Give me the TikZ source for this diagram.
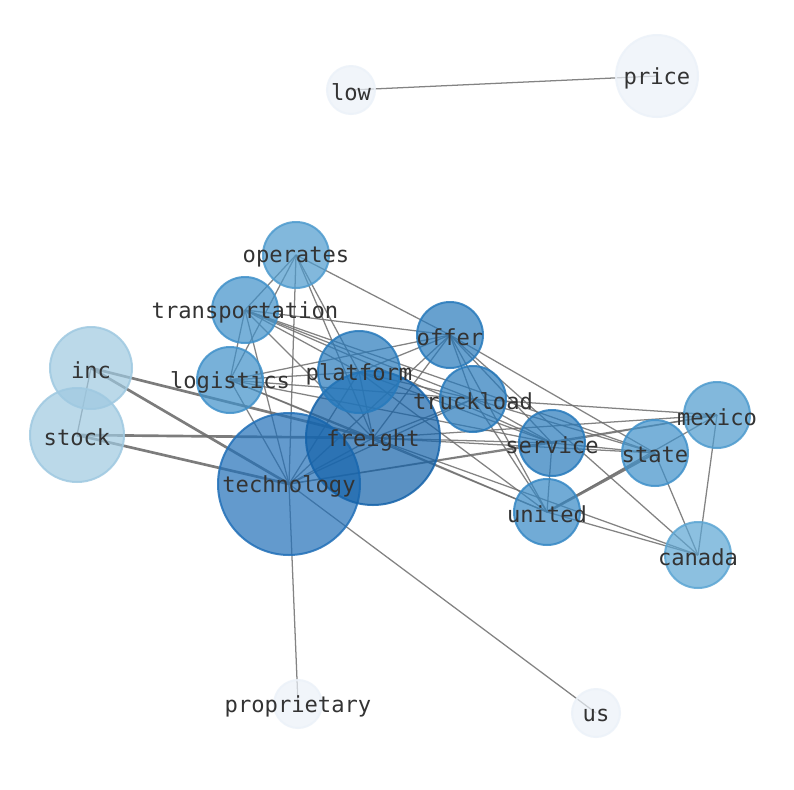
\documentclass[tikz,border=0pt]{standalone}
\usepackage{fontspec}
\setmainfont{DejaVu Sans Mono}
\definecolor{cLow}{RGB}{236,242,249}
\definecolor{cInc}{RGB}{159,201,225}
\definecolor{cCan}{RGB}{92,166,212}
\definecolor{cOpe}{RGB}{78,155,206}
\definecolor{cTra}{RGB}{64,145,202}
\definecolor{cUni}{RGB}{54,136,197}
\definecolor{cOff}{RGB}{39,122,188}
\definecolor{cTec}{RGB}{34,112,184}
\definecolor{cFre}{RGB}{21,99,170}
\definecolor{cEdge}{RGB}{110,110,110}
\definecolor{cTxt}{RGB}{51,51,51}
\tikzset{
  circ/.style 2 args={circle, inner sep=0pt, minimum size={(#1-1)*1.5pt}, fill=#2, draw=#2, fill opacity=0.7, draw opacity=0.85, line width=1.5pt},
  lbl/.style={text=cTxt, inner sep=0pt, font=\fontsize{16.6}{20}\selectfont, yshift=-1.5pt},
  edge/.style={draw=cEdge, draw opacity=0.85, line width=0.95pt},
  thickedge/.style={draw=cEdge, draw opacity=0.9, line width=2pt}
}
\begin{document}
\begin{tikzpicture}[x=0.75pt, y=-0.75pt]
\fill[white] (0,0) rectangle (794,790);
\useasboundingbox (0,0) rectangle (794,790);
% positions
\coordinate (low) at (351,90);
\coordinate (price) at (657,76);
\coordinate (operates) at (296,255);
\coordinate (transportation) at (245,310);
\coordinate (offer) at (450,335);
\coordinate (platform) at (359,372);
\coordinate (inc) at (91,368);
\coordinate (logistics) at (230,380);
\coordinate (truckload) at (473,399);
\coordinate (freight) at (373,438);
\coordinate (stock) at (77,435);
\coordinate (mexico) at (717,415);
\coordinate (service) at (552,443);
\coordinate (state) at (655,453);
\coordinate (technology) at (289,484);
\coordinate (united) at (547,512);
\coordinate (canada) at (698,555);
\coordinate (proprietary) at (298,704);
\coordinate (us) at (596,713);
% edges
\foreach \a/\b in {low/price, technology/proprietary, technology/us, inc/stock,
  operates/transportation, operates/logistics, operates/technology, operates/platform, operates/freight, operates/offer,
  transportation/logistics, transportation/technology, transportation/offer, transportation/platform, transportation/freight,
  transportation/truckload, transportation/service, transportation/state,
  logistics/technology, logistics/offer, logistics/platform, logistics/freight, logistics/truckload, logistics/service, logistics/united,
  offer/platform, offer/freight, offer/technology, offer/truckload, offer/service, offer/united, offer/state, offer/canada,
  platform/freight, platform/technology, platform/truckload, platform/service, platform/united,
  freight/technology, freight/truckload, freight/service, freight/state, freight/mexico, freight/united, freight/canada,
  technology/truckload, technology/service, technology/mexico,
  truckload/service, truckload/mexico, truckload/state, truckload/united,
  service/united, service/state, service/mexico,
  united/mexico, united/canada, state/canada, mexico/canada}
  {\draw[edge] (\a) -- (\b);}
\foreach \a/\b in {inc/technology, inc/freight, stock/technology, stock/freight, united/state}
  {\draw[thickedge] (\a) -- (\b);}
% circles
\node[circ={25}{cLow}] (c-low) at (low) {};
\node[circ={42}{cLow}] (c-price) at (price) {};
\node[circ={25}{cLow}] (c-proprietary) at (proprietary) {};
\node[circ={25}{cLow}] (c-us) at (us) {};
\node[circ={42}{cInc}] (c-inc) at (inc) {};
\node[circ={48}{cInc}] (c-stock) at (stock) {};
\node[circ={34}{cOpe}] (c-operates) at (operates) {};
\node[circ={34}{cTra}] (c-transportation) at (transportation) {};
\node[circ={34}{cTra}] (c-logistics) at (logistics) {};
\node[circ={72}{cTec}] (c-technology) at (technology) {};
\node[circ={68}{cFre}] (c-freight) at (freight) {};
\node[circ={42}{cOff}] (c-platform) at (platform) {};
\node[circ={34}{cOff}] (c-offer) at (offer) {};
\node[circ={34}{cOff}] (c-truckload) at (truckload) {};
\node[circ={34}{cOff}] (c-service) at (service) {};
\node[circ={34}{cUni}] (c-united) at (united) {};
\node[circ={34}{cTra}] (c-state) at (state) {};
\node[circ={34}{cOpe}] (c-mexico) at (mexico) {};
\node[circ={34}{cCan}] (c-canada) at (canada) {};
% labels
\foreach \n in {low,price,operates,transportation,offer,platform,inc,logistics,truckload,freight,stock,mexico,service,state,technology,united,canada,proprietary,us}
  {\node[lbl] (l-\n) at (\n) {\n};}
\end{tikzpicture}
\end{document}
